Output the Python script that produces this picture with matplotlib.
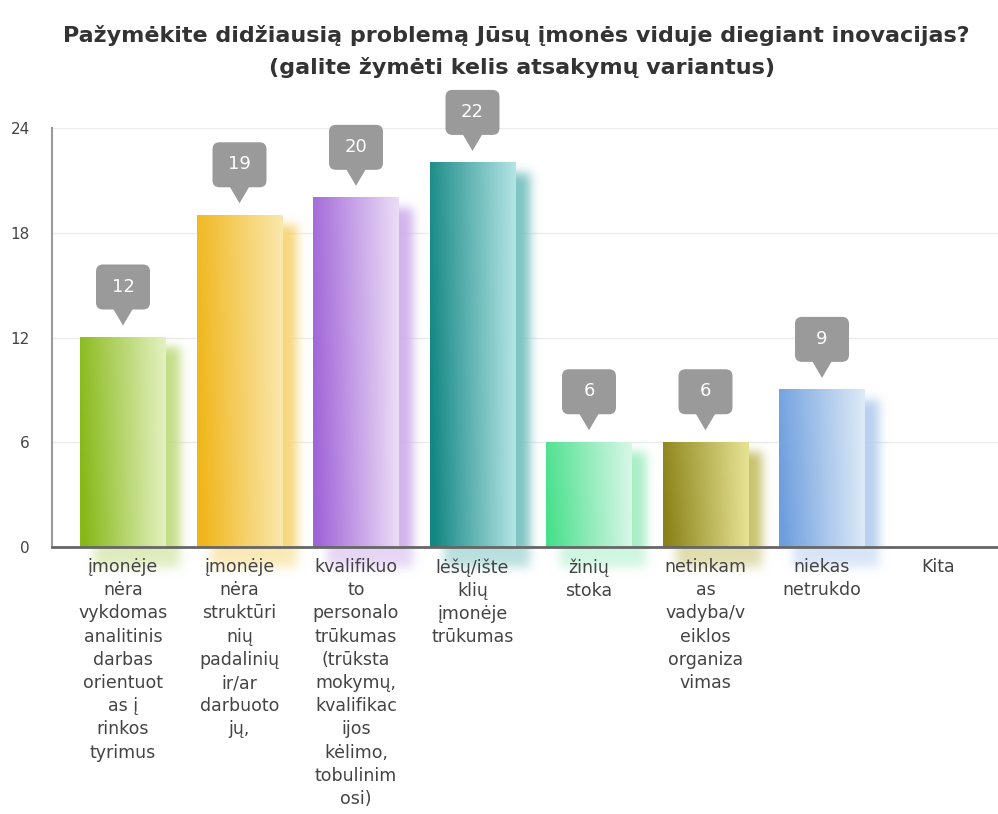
import numpy as np
import matplotlib
matplotlib.use("Agg")
import matplotlib.pyplot as plt
import matplotlib.transforms as mtransforms
from matplotlib.patches import FancyBboxPatch, Polygon
from matplotlib.colors import to_rgb

# chart data
title_1 = "Pažymėkite didžiausią problemą Jūsų įmonės viduje diegiant inovacijas?"
title_2 = "(galite žymėti kelis atsakymų variantus)"
categories = [
    "įmonėje\nnėra\nvykdomas\nanalitinis\ndarbas\norientuot\nas į\nrinkos\ntyrimus",
    "įmonėje\nnėra\nstruktūri\nnių\npadalinių\nir/ar\ndarbuoto\njų,",
    "kvalifikuo\nto\npersonalo\ntrūkumas\n(trūksta\nmokymų,\nkvalifikac\nijos\nkėlimo,\ntobulinim\nosi)",
    "lėšų/ište\nklių\nįmonėje\ntrūkumas",
    "žinių\nstoka",
    "netinkam\nas\nvadyba/v\neiklos\norganiza\nvimas",
    "niekas\nnetrukdo",
    "Kita",
]
values = [12, 19, 20, 22, 6, 6, 9, 0]
yticks = [0, 6, 12, 18, 24]
dark_colors = ["#86b817", "#f0b619", "#a064d8", "#138783", "#48e08c", "#8a8218", "#6e9ede", "#999999"]
light_colors = ["#e9f4c9", "#fbeab5", "#efe3f8", "#bdeaea", "#e0f8ec", "#ebe89a", "#e4eef9", "#eeeeee"]

W, H = 998, 814
fig = plt.figure(figsize=(W / 100, H / 100), dpi=100)
ax_l, ax_r, ax_t, ax_b = 52, 998, 128, 547
ax = fig.add_axes([ax_l / W, (H - ax_b) / H, (ax_r - ax_l) / W, (ax_b - ax_t) / H])

slot = 116.5
first_c = 123
xmin = (ax_l - first_c) / slot
xmax = (ax_r - first_c) / slot
ax.set_xlim(xmin, xmax)
ax.set_ylim(0, 24)
bar_w = 86 / slot

px_x = 1 / slot                     # data units per pixel, x
px_y = 24 / (ax_b - ax_t)           # data units per pixel, y


def blur(a, sigma):
    r = int(3 * sigma)
    k = np.exp(-0.5 * (np.arange(-r, r + 1) / sigma) ** 2)
    k /= k.sum()
    a = np.apply_along_axis(lambda m: np.convolve(m, k, mode="same"), 0, a)
    a = np.apply_along_axis(lambda m: np.convolve(m, k, mode="same"), 1, a)
    return a


xs = np.arange(len(categories))
for i, v in enumerate(values):
    if v <= 0:
        continue
    c0 = np.array(to_rgb(dark_colors[i]))
    c1 = np.array(to_rgb(light_colors[i]))

    # soft shadow to the right of the bar
    pad = 18
    hpx = int(round(v / px_y))
    wpx = 86
    sh = np.zeros((hpx + 20 + 2 * pad, wpx + 2 * pad))
    sh[pad:pad + hpx + 10, pad:pad + wpx] = 1.0
    sh = blur(sh, 5)
    # fade the part under the axis line
    rows = np.arange(sh.shape[0])
    fade = np.where(rows > pad + hpx - 10, 0.55, 1.0)
    sh = sh * fade[:, None]
    scol = 0.4 * c0 + 0.6 * c1
    img = np.zeros(sh.shape + (4,))
    img[..., :3] = scol
    img[..., 3] = np.clip(sh * 0.95, 0, 1)
    x0 = xs[i] - bar_w / 2 + 14 * px_x - pad * px_x
    x1 = x0 + (wpx + 2 * pad) * px_x
    ytop = v - 10 * px_y + pad * px_y
    ybot = ytop - sh.shape[0] * px_y
    ax.imshow(img, extent=(x0, x1, ybot, ytop), aspect="auto", zorder=1.5,
              clip_on=False, interpolation="bilinear")

    # gradient bar
    t = np.linspace(0, 1, 120)
    ty = np.linspace(0, 1, 60)[:, None]
    tt = np.clip(t[None, :] + 0.12 * (1 - ty) * (1 - t[None, :]) - 0.05, 0, 1)
    bar = c0[None, None, :] * (1 - tt[..., None]) + c1[None, None, :] * tt[..., None]
    ax.imshow(bar, extent=(xs[i] - bar_w / 2, xs[i] + bar_w / 2, 0, v),
              aspect="auto", zorder=2, interpolation="bilinear")

    # grey value callout above the bar
    tr = mtransforms.ScaledTranslation(xs[i], v, ax.transData)
    box = FancyBboxPatch((-27, 28), 54, 45, boxstyle="round,pad=0,rounding_size=7",
                         transform=tr, fc="#9a9a9a", ec="none", zorder=4, clip_on=False)
    ax.add_patch(box)
    ax.add_patch(Polygon([(-10, 29), (10, 29), (0, 12)], closed=True, transform=tr,
                         fc="#9a9a9a", ec="none", zorder=4, clip_on=False))
    ax.text(0, 51, str(v), transform=tr, ha="center", va="center", color="white",
            fontsize=13, zorder=5)

ax.set_xlim(xmin, xmax)
ax.set_ylim(0, 24)

ax.set_yticks(yticks)
ax.set_yticklabels([str(y) for y in yticks], fontsize=11, color="#444444")
ax.set_xticks(xs)
ax.set_xticklabels(categories, fontsize=12.5, color="#444444", va="top",
                   linespacing=1.37)
ax.tick_params(axis="y", length=0, pad=16)
ax.tick_params(axis="x", length=0, pad=8)

ax.grid(axis="y", color="#ebebeb", linewidth=1)
ax.set_axisbelow(True)
ax.xaxis.set_zorder(5)
for s in ["top", "right"]:
    ax.spines[s].set_visible(False)
ax.spines["left"].set_color("#9a9a9a")
ax.spines["left"].set_linewidth(1.5)
ax.spines["bottom"].set_color("#666666")
ax.spines["bottom"].set_linewidth(2)
ax.spines["bottom"].set_zorder(3)

fig.text(516 / W, 1 - 35 / H, title_1, ha="center", va="center", fontsize=16,
         fontweight="bold", color="#333333")
fig.text(522 / W, 1 - 68 / H, title_2, ha="center", va="center", fontsize=16,
         fontweight="bold", color="#333333")

fig.savefig("out.png", dpi=100)
